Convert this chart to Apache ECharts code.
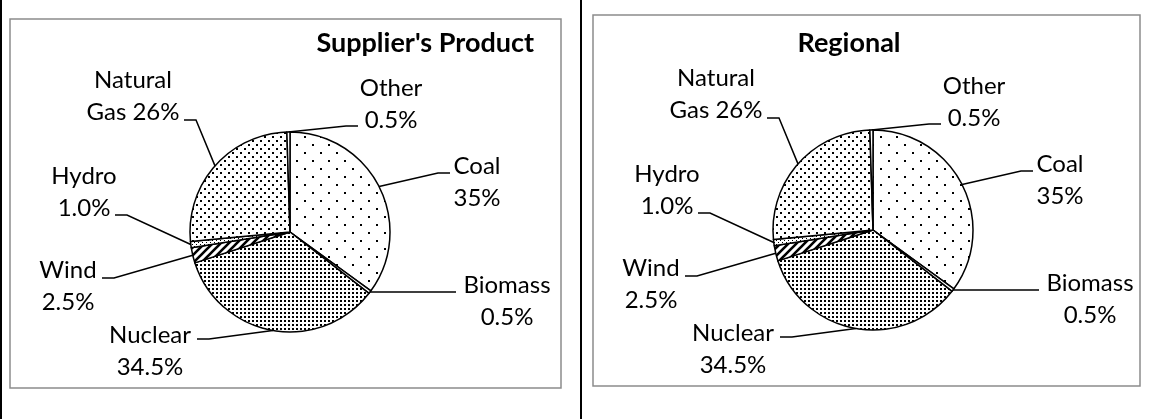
<!DOCTYPE html>
<html>
<head>
<meta charset="utf-8">
<script src="https://cdn.jsdelivr.net/npm/echarts@6/dist/echarts.min.js"></script>
<style>
html, body { margin: 0; padding: 0; background: #fff; }
#main { width: 1150px; height: 419px; }
</style>
</head>
<body>
<div id="main"></div>
<script>
// data
var categories = ['Coal', 'Biomass', 'Nuclear', 'Wind', 'Hydro', 'Natural Gas', 'Other'];
var supplierValues = [35, 0.5, 34.5, 2.5, 1.0, 26, 0.5];
var regionalValues = [35, 0.5, 34.5, 2.5, 1.0, 26, 0.5];
var labelTexts = ['Coal\n35%', 'Biomass\n0.5%', 'Nuclear\n34.5%', 'Wind\n2.5%', 'Hydro\n1.0%', 'Natural\nGas 26%', 'Other\n0.5%'];
var chartTitles = ["Supplier's Product", 'Regional'];

// layout (pixels)
var pieCenters = [[290, 232], [873, 230]];
var pieRadius = 100;
// label block centre (dx,dy) and leader end (ex,ey) relative to the pie centre, side: 1 = label right of line
var labelPlace = [
    [187, -50, 160, -59, 1],
    [217, 69.5, 166, 60, 1],
    [-140, 119, -93, 107, -1],
    [-222, 54, -188, 46, -1],
    [-206, -39.5, -175, -17, -1],
    [-157, -135.5, -106, -112, -1],
    [101, -127.5, 68, -106, 1]
];

// fill patterns, like the excel ones
function dotPattern(tile, dots, size) {
    var c = document.createElement('canvas');
    c.width = tile; c.height = tile;
    var ctx = c.getContext('2d');
    ctx.fillStyle = '#fff';
    ctx.fillRect(0, 0, tile, tile);
    ctx.fillStyle = '#000';
    dots.forEach(function (d) { ctx.fillRect(d[0], d[1], size, size); });
    return { image: c, repeat: 'repeat' };
}
function stripePattern() {
    var c = document.createElement('canvas');
    c.width = 8; c.height = 8;
    var ctx = c.getContext('2d');
    ctx.fillStyle = '#fff';
    ctx.fillRect(0, 0, 8, 8);
    ctx.strokeStyle = '#000';
    ctx.lineWidth = 2.6;
    ctx.beginPath();
    ctx.moveTo(-2, 10); ctx.lineTo(10, -2);
    ctx.moveTo(-6, 6); ctx.lineTo(6, -6);
    ctx.moveTo(2, 14); ctx.lineTo(14, 2);
    ctx.stroke();
    return { image: c, repeat: 'repeat' };
}
var fills = [
    dotPattern(16, [[8, 0], [0, 8]], 2),   // coal
    '#fff',                                 // biomass
    dotPattern(4, [[0, 0]], 2),             // nuclear
    stripePattern(),                        // wind
    dotPattern(4, [[0, 0], [2, 2]], 1),     // hydro
    dotPattern(8, [[0, 0], [4, 4]], 2),     // natural gas
    '#fff'                                  // other
];

var fontFamily = 'Lato';

function buildData(values) {
    return categories.map(function (name, i) {
        return { name: name, value: values[i], itemStyle: { color: fills[i] } };
    });
}

function pieSeries(idx, values) {
    return {
        type: 'pie',
        center: pieCenters[idx],
        radius: pieRadius,
        startAngle: 90,
        clockwise: true,
        avoidLabelOverlap: false,
        animation: false,
        itemStyle: { borderColor: '#000', borderWidth: 1.5 },
        label: {
            show: true,
            position: 'outside',
            overflow: 'none',
            formatter: function (p) { return labelTexts[p.dataIndex]; },
            fontFamily: fontFamily,
            fontSize: 24,
            lineHeight: 32,
            color: '#000',
            align: 'center'
        },
        labelLine: { show: true, lineStyle: { color: '#000', width: 1.5 } },
        labelLayout: function (params) {
            var c = pieCenters[params.seriesIndex];
            var p = labelPlace[params.dataIndex];
            var ex = c[0] + p[2], ey = c[1] + p[3];
            var tx = ex - p[4] * 12;
            var edge = params.labelLinePoints ? params.labelLinePoints[0] : [tx, ey];
            return {
                x: c[0] + p[0],
                y: c[1] + p[1],
                align: 'center',
                verticalAlign: 'middle',
                labelLinePoints: [[edge[0], edge[1]], [tx, ey], [ex, ey]]
            };
        },
        emphasis: { disabled: true },
        data: buildData(values)
    };
}

var chart = echarts.init(document.getElementById('main'), null, { renderer: 'canvas' });

var titleStyle = { fontFamily: fontFamily, fontSize: 27, fontWeight: 'bold', color: '#000', lineHeight: 30 };

var option = {
    backgroundColor: '#fff',
    title: [
        { text: chartTitles[0], left: 534, top: 28, padding: 0, textAlign: 'right', textStyle: titleStyle },
        { text: chartTitles[1], left: 849, top: 28, padding: 0, textAlign: 'center', textStyle: titleStyle }
    ],
    graphic: [
        { type: 'rect', shape: { x: 10, y: 19, width: 551, height: 369 },
          style: { fill: 'none', stroke: '#8c8c8c', lineWidth: 1.5 }, silent: true },
        { type: 'rect', shape: { x: 593, y: 15, width: 547, height: 371 },
          style: { fill: 'none', stroke: '#8c8c8c', lineWidth: 1.5 }, silent: true },
        { type: 'line', shape: { x1: 581, y1: 0, x2: 581, y2: 419 },
          style: { stroke: '#000', lineWidth: 2 }, silent: true },
        { type: 'line', shape: { x1: 1, y1: 0, x2: 1, y2: 419 },
          style: { stroke: '#000', lineWidth: 2 }, silent: true }
    ],
    series: [
        pieSeries(0, supplierValues),
        pieSeries(1, regionalValues)
    ]
};

chart.setOption(option);
</script>
</body>
</html>
